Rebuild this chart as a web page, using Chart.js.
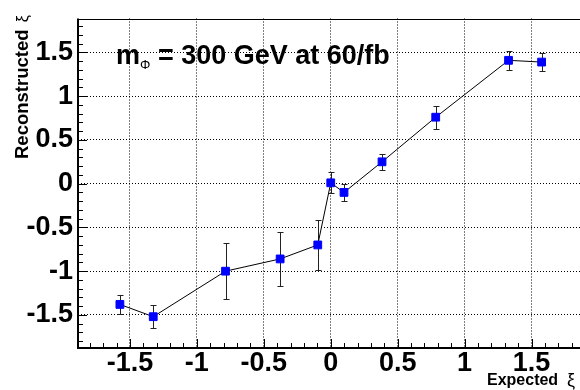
<!DOCTYPE html>
<html>
<head>
<meta charset="utf-8">
<script src="https://cdn.jsdelivr.net/npm/chart.js@4/dist/chart.umd.min.js"></script>
<style>
  html, body { margin: 0; padding: 0; background: #fff; overflow: hidden; }
  #wrap { width: 590px; height: 390px; }
</style>
</head>
<body>
<div id="wrap"><canvas id="c" width="590" height="390"></canvas></div>
<script>
// expected xi (x) vs reconstructed xi (y), with errors on y
const expectedXi = [-1.575, -1.326, -0.786, -0.378, -0.097, 0.0, 0.099, 0.383, 0.784, 1.328, 1.575];
const reconXi    = [-1.38, -1.52, -1.00, -0.86, -0.70, 0.01, -0.10, 0.25, 0.76, 1.41, 1.39];
const reconErr   = [0.11, 0.13, 0.32, 0.31, 0.29, 0.12, 0.10, 0.09, 0.13, 0.11, 0.10];

const FONT = "'Liberation Sans', Arial, Helvetica, sans-serif";

// error bars, drawn under the markers
const errorBars = {
    id: 'errorBars',
    beforeDatasetsDraw(chart) {
        const {ctx, scales: {x, y}} = chart;
        ctx.save();
        ctx.strokeStyle = '#222';
        ctx.lineWidth = 1;
        ctx.beginPath();
        for(let i=0; i<expectedXi.length; ++i) {
            const px = Math.round(x.getPixelForValue(expectedXi[i])) + 0.5;
            const top = Math.round(y.getPixelForValue(reconXi[i] + reconErr[i])) + 0.5;
            const bot = Math.round(y.getPixelForValue(reconXi[i] - reconErr[i])) + 0.5;
            ctx.moveTo(px, top); ctx.lineTo(px, bot);
            ctx.moveTo(px-3, top); ctx.lineTo(px+3, top);
            ctx.moveTo(px-3, bot); ctx.lineTo(px+3, bot);
        }
        ctx.stroke();
        ctx.restore();
    }
};

// ROOT-like frame: inward ticks, frame lines, titles and the label
const frame = {
    id: 'frame',
    afterDraw(chart) {
        const {ctx, chartArea: a, scales: {x, y}} = chart;
        ctx.save();
        ctx.strokeStyle = '#000';
        ctx.lineWidth = 1;
        ctx.beginPath();
        for(let k=Math.ceil(x.min*10); k<=Math.floor(x.max*10); ++k) {
            const px = Math.round(x.getPixelForValue(k/10)) + 0.5;
            const len = (k % 5 === 0) ? 9 : 5;
            ctx.moveTo(px, a.bottom); ctx.lineTo(px, a.bottom - len);
        }
        for(let k=Math.ceil(y.min*10); k<=Math.floor(y.max*10); ++k) {
            const py = Math.round(y.getPixelForValue(k/10)) + 0.5;
            const len = (k % 5 === 0) ? 9 : 5;
            ctx.moveTo(a.left, py); ctx.lineTo(a.left + len, py);
        }
        ctx.stroke();

        // frame lines
        ctx.lineWidth = 1;
        ctx.beginPath();
        ctx.moveTo(a.left, Math.round(a.top) + 0.5);
        ctx.lineTo(a.right, Math.round(a.top) + 0.5);
        ctx.stroke();
        ctx.lineWidth = 2;
        ctx.beginPath();
        ctx.moveTo(Math.round(a.left), a.top);
        ctx.lineTo(Math.round(a.left), Math.round(a.bottom));
        ctx.lineTo(a.right, Math.round(a.bottom));
        ctx.stroke();

        ctx.fillStyle = '#000';
        ctx.textBaseline = 'alphabetic';

        // x title
        ctx.textAlign = 'left';
        ctx.font = 'bold 16px ' + FONT;
        ctx.fillText('Expected', 487, 385);
        ctx.font = '18px ' + FONT;
        ctx.fillText('ξ', 567, 386);

        // y title
        ctx.save();
        ctx.translate(28, 159);
        ctx.rotate(-Math.PI/2);
        ctx.font = 'bold 18.5px ' + FONT;
        ctx.fillText('Reconstructed', 0, 0);
        const rw = ctx.measureText('Reconstructed ').width;
        ctx.font = '16px ' + FONT;
        ctx.fillText('ξ', rw + 2, 0);
        ctx.restore();

        // label
        ctx.font = 'bold 27px ' + FONT;
        ctx.fillText('m', 116, 64);
        const mw = ctx.measureText('m').width;
        ctx.font = '13px ' + FONT;
        ctx.fillText('Φ', 116 + mw, 69);
        const pw = ctx.measureText('Φ').width;
        ctx.font = 'bold 27px ' + FONT;
        ctx.fillText(' = 300 GeV at 60/fb', 116 + mw + pw, 64);

        ctx.restore();
    }
};

const tickLabel = v => String(Math.round(v*10)/10);

new Chart(document.getElementById('c'), {
    type: 'scatter',
    data: {
        datasets: [{
            data: expectedXi.map((v, i) => ({x: v, y: reconXi[i]})),
            showLine: true,
            borderColor: '#000',
            borderWidth: 1,
            pointStyle: 'rect',
            pointRadius: 5.5,
            pointBorderWidth: 1,
            pointBackgroundColor: '#0000ff',
            pointBorderColor: '#0000ff',
            tension: 0
        }]
    },
    options: {
        responsive: false,
        animation: false,
        devicePixelRatio: 1,
        layout: {padding: {top: 9, right: 6, left: 0, bottom: 0}},
        plugins: {legend: {display: false}, tooltip: {enabled: false}},
        scales: {
            x: {
                type: 'linear',
                min: -1.888, max: 1.888,
                afterFit: s => { s.height = 42; },
                border: {display: false, dash: [1, 2]},
                grid: {color: '#000', lineWidth: 1, drawTicks: false},
                ticks: {
                    stepSize: 0.5, includeBounds: false, padding: 2,
                    color: '#000', maxRotation: 0, autoSkip: false,
                    font: {family: FONT, size: 27, weight: 'bold', lineHeight: 1},
                    callback: tickLabel
                }
            },
            y: {
                type: 'linear',
                min: -1.878, max: 1.888,
                afterFit: s => { s.width = 78; },
                border: {display: false, dash: [1, 2]},
                grid: {color: '#000', lineWidth: 1, drawTicks: false},
                ticks: {
                    stepSize: 0.5, includeBounds: false, padding: 5,
                    color: '#000', autoSkip: false,
                    font: {family: FONT, size: 27, weight: 'bold', lineHeight: 1},
                    callback: tickLabel
                }
            }
        }
    },
    plugins: [errorBars, frame]
});
</script>
</body>
</html>
